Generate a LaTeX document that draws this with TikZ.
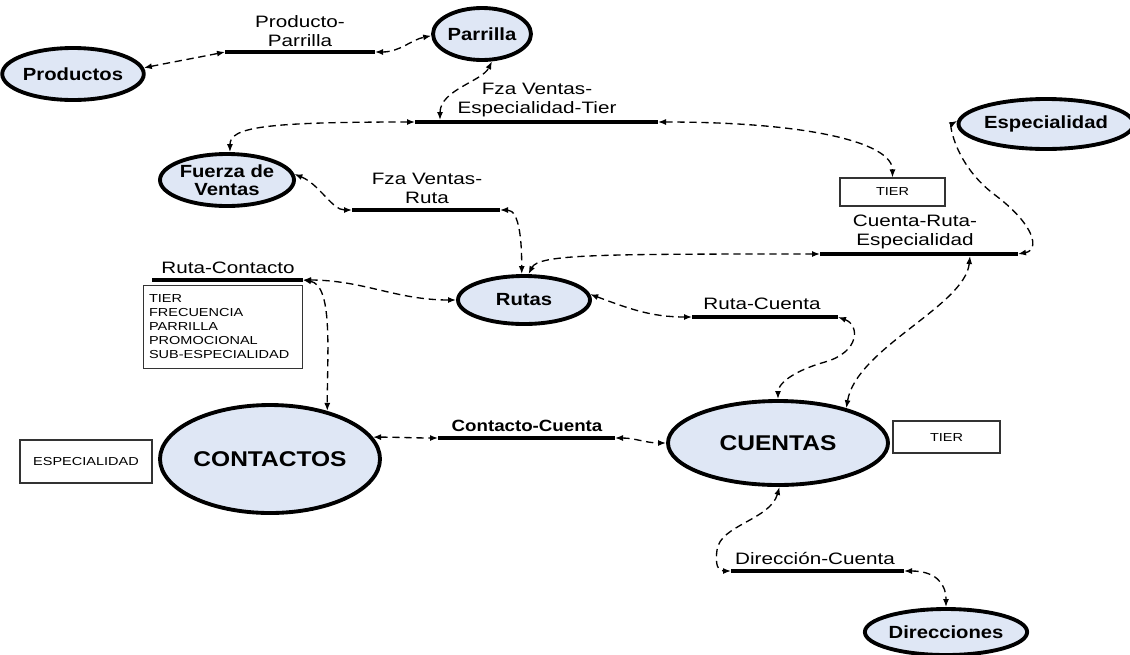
\documentclass[tikz,border=0pt]{standalone}
\usepackage{fontspec}
\setmainfont{Liberation Sans}
\newfontfamily\regf{Liberation Sans}[FakeStretch=1.25]
\newfontfamily\bldf{Liberation Sans}[FakeStretch=1.15]
\usetikzlibrary{shapes.geometric,arrows.meta}
\definecolor{ellfill}{RGB}{223,231,245}
\tikzset{
  ent/.style={ellipse, draw=black, line width=2.9pt, fill=ellfill, inner sep=0pt,
    align=center, font=\bldf\bfseries\fontsize{13.2pt}{13.5pt}\selectfont},
  bigent/.style={ent, font=\bldf\bfseries\fontsize{16pt}{17pt}\selectfont},
  rel/.style={line width=2.8pt},
  lbl/.style={inner sep=0pt, align=center, font=\regf\fontsize{12.4pt}{14.2pt}\selectfont},
  blbl/.style={inner sep=0pt, align=center, font=\bldf\bfseries\fontsize{12.2pt}{14pt}\selectfont},
  attbox/.style={draw=black!80, line width=0.8pt, inner sep=0pt,
    font=\regf\fontsize{8.7pt}{10.5pt}\selectfont},
  conn/.style={line width=1pt, dash pattern=on 5.5pt off 3.5pt,
    {Latex[length=6pt,width=4.5pt]}-{Latex[length=6pt,width=4.5pt]}}
}
\begin{document}
\begin{tikzpicture}[x=0.75pt,y=-0.75pt]
\useasboundingbox (0,0) rectangle (1130,654);

% entities
\node[ent, minimum width=96pt, minimum height=39pt] (prod) at (73,74) {Productos};
\node[ent, minimum width=73.5pt, minimum height=39pt] (parr) at (482,34) {Parrilla};
\node[ent, minimum width=100.5pt, minimum height=39pt] (fuer) at (227,180) {Fuerza de\\Ventas};
\node[ent, minimum width=114pt, minimum height=37.5pt] (esp) at (1046,124) {Especialidad};
\node[ent, minimum width=99pt, minimum height=36pt] (rut) at (524,300) {Rutas};
\node[bigent, minimum width=165pt, minimum height=81pt] (cont) at (270,459) {CONTACTOS};
\node[bigent, minimum width=165pt, minimum height=63pt] (cuen) at (778,443) {CUENTAS};
\node[ent, minimum width=100.5pt, minimum height=34.5pt] (dir) at (946,632) {Direcciones};

% attribute boxes
\node[attbox, minimum width=78.75pt, minimum height=21pt] (tierA) at (892.5,192) {TIER};
\node[attbox, minimum width=80.25pt, minimum height=24pt] (tierB) at (946.5,437) {TIER};
\node[attbox, minimum width=99pt, minimum height=32.25pt] (espbox) at (86,461.5) {ESPECIALIDAD};
\node[attbox, anchor=north west, minimum width=119.25pt, minimum height=62.25pt,
      text width=111pt, inner xsep=4pt, align=left] (rcbox) at (143,285)
      {TIER\\FRECUENCIA\\PARRILLA\\PROMOCIONAL\\SUB-ESPECIALIDAD};

% relationship lines
\coordinate (ppL) at (225,52);   \coordinate (ppR) at (375,52);
\coordinate (fetL) at (415,122); \coordinate (fetR) at (658,122); \coordinate (fetA) at (440,120);
\coordinate (fvrL) at (352,210); \coordinate (fvrR) at (500,210);
\coordinate (creL) at (820,254); \coordinate (creR) at (1018,254); \coordinate (creA) at (970,256);
\coordinate (rcL) at (152,280);  \coordinate (rcR) at (303,280);
\coordinate (rcuL) at (692,317); \coordinate (rcuR) at (838,317);
\coordinate (ccL) at (438,438);  \coordinate (ccR) at (615,438);
\coordinate (dcL) at (731,571);  \coordinate (dcR) at (904,571);

\draw[rel] (ppL) -- (ppR);
\draw[rel] (fetL) -- (fetR);
\draw[rel] (fvrL) -- (fvrR);
\draw[rel] (creL) -- (creR);
\draw[rel] (rcL) -- (rcR);
\draw[rel] (rcuL) -- (rcuR);
\draw[rel] (ccL) -- (ccR);
\draw[rel] (dcL) -- (dcR);

% relationship labels
\node[lbl] (ppT) at (300,31) {Producto-\\Parrilla};
\node[lbl] (fetT) at (537,100) {Fza Ventas-\\Especialidad-Tier};
\node[lbl] (fvrT) at (427,188) {Fza Ventas-\\Ruta};
\node[lbl] (creT) at (915,232) {Cuenta-Ruta-\\Especialidad};
\node[lbl] (rcT) at (228,268) {Ruta-Contacto};
\node[lbl] (rcuT) at (762,304) {Ruta-Cuenta};
\node[blbl] (ccT) at (527,426) {Contacto-Cuenta};
\node[lbl] (dcT) at (815,558) {Dirección-Cuenta};

% connectors
\draw[conn] (prod.5) .. controls +(30,-6) and +(-30,6) .. (ppL);
\draw[conn] (ppR) .. controls +(25,0) and +(-20,4) .. (parr.182);
\draw[conn] (fetA) .. controls +(0,-30) and +(-10,20) .. (parr.-70);
\draw[conn] (fetL) .. controls +(-150,0) and +(0,-25) .. (fuer.84);
\draw[conn] (fetR) .. controls +(150,0) and +(0,-35) .. (tierA.north);
\draw[conn] (esp.178) .. controls (950,125) and (955,165) .. (995,195)
                      .. controls (1035,225) and (1040,250) .. (creR);
\draw[conn] (creL) .. controls +(-220,0) and +(10,-20) .. (rut.80);
\draw[conn] (creA) .. controls +(-5,50) and +(10,-60) .. (cuen.27);
\draw[conn] (fuer.5) .. controls +(25,10) and +(-20,0) .. (fvrL);
\draw[conn] (fvrR) .. controls +(20,0) and +(0,-30) .. (rut.95);
\draw[conn] (rcR) .. controls +(60,0) and +(-60,0) .. (rut.west);
\draw[conn] (rcR) .. controls +(30,5) and +(0,-60) .. (cont.40);
\draw[conn] (rut.5) .. controls +(40,15) and +(-40,0) .. (rcuL);
\draw[conn] (rcuR) .. controls (860,325) and (860,352) .. (825,362)
                   .. controls (790,372) and (778,385) .. (cuen.90);
\draw[conn] (cont.12) .. controls +(20,0) and +(-20,0) .. (ccL);
\draw[conn] (ccR) .. controls +(20,0) and +(-20,0) .. (cuen.180);
\draw[conn] (cuen.272) .. controls (770,520) and (720,525) .. (717,550)
                       .. controls (715,565) and (718,571) .. (dcL);
\draw[conn] (dcR) .. controls +(30,0) and +(0,-25) .. (dir.north);
\end{tikzpicture}
\end{document}
